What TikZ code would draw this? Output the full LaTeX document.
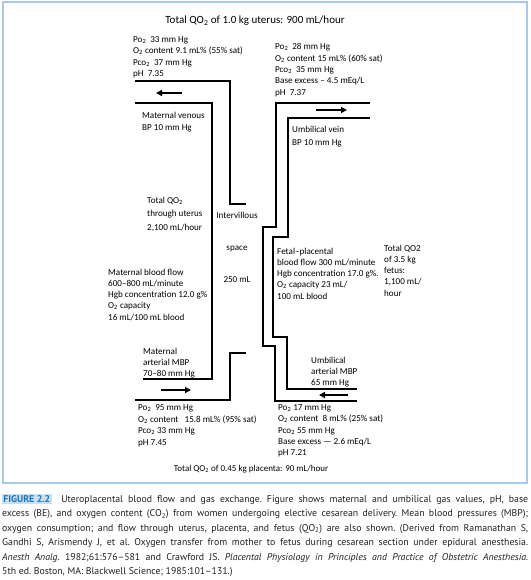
\documentclass[tikz,border=0pt]{standalone}
\usepackage{fontspec}
\setmainfont{Carlito}
\newfontfamily\capfont[Ligatures=TeX]{PT Sans}
\usetikzlibrary{arrows.meta}
\definecolor{frameblue}{HTML}{A9C9EA}
\definecolor{figblue}{HTML}{1D75B3}
\definecolor{figbg}{HTML}{C9E0F4}
\definecolor{captext}{HTML}{231F20}
\newcommand\osub{\textsubscript{2}}
\begin{document}
\begin{tikzpicture}[x=1pt,y=-1pt,
  wall/.style={line width=1.6pt, line join=miter},
  flow/.style={line width=1.6pt,-{Triangle[length=6pt,width=6pt]}},
  lbl/.style={font=\fontsize{9.1}{11.3}\selectfont, align=left, anchor=north west, inner sep=0pt},
  ttl/.style={font=\fontsize{9}{11}\selectfont, inner sep=0pt}]
\useasboundingbox (0,0) rectangle (530,580);
\draw[frameblue, line width=1.5pt] (3,2) rectangle (527,483);

% titles
\node[ttl, font=\fontsize{11}{13}\selectfont] (toptitle) at (255,21) {Total QO\osub{} of 1.0 kg uterus: 900 mL/hour};
\node[ttl] (bottitle) at (251,469) {Total QO\osub{} of 0.45 kg placenta: 90 mL/hour};

% maternal walls
\draw[wall] (135,81) -- (230,81) -- (230,204) -- (246,204);
\draw[wall] (135,103) -- (212,103) -- (212,379) -- (143,379);
\draw[wall] (135,400) -- (230,400) -- (230,353) -- (246,353);
% fetal walls
\draw[wall] (370,103) -- (276,103) -- (276,227) -- (263,227) -- (263,346) -- (275,346) -- (275,401) -- (357,401);
\draw[wall] (370,118) -- (288,118) -- (288,237) -- (273,237) -- (273,337) -- (287,337) -- (287,389) -- (357,389);

% flow arrows
\coordinate (a1s) at (182,93);  \coordinate (a1e) at (156,93);
\coordinate (a2s) at (316,110); \coordinate (a2e) at (347,110);
\coordinate (a3s) at (161,390); \coordinate (a3e) at (191,390);
\coordinate (a4s) at (348,395); \coordinate (a4e) at (319,395);
\draw[flow] (a1s) -- (a1e);
\draw[flow] (a2s) -- (a2e);
\draw[flow] (a3s) -- (a3e);
\draw[flow] (a4s) -- (a4e);

% text blocks
\node[lbl] (ltop) at (133,36.5) {Po\osub{}\ \ 33 mm Hg\\O\osub{} content 9.1 mL\% (55\% sat)\\Pco\osub{}\ \ 37 mm Hg\\pH\ \ 7.35};
\node[lbl] (rtop) at (275,43.5) {Po\osub{}\ \ 28 mm Hg\\O\osub{} content 15 mL\% (60\% sat)\\Pco\osub{}\ \ 35 mm Hg\\Base excess – 4.5 mEq/L\\pH\ \ 7.37};
\node[lbl, font=\fontsize{9.1}{12}\selectfont] (matven) at (142,111.5) {Maternal venous\\BP 10 mm Hg};
\node[lbl, font=\fontsize{9.1}{13}\selectfont] (umbvein) at (292,125.5) {Umbilical vein\\BP 10 mm Hg};
\node[lbl, font=\fontsize{9.1}{13.5}\selectfont] (qut) at (147,196.5) {Total QO\osub\\through uterus\\2,100 mL/hour};
\node[font=\fontsize{9.1}{32}\selectfont, align=center, anchor=north, inner sep=0pt] (ivs) at (237,211.5) {Intervillous\\space\\250 mL};
\node[lbl] (mbf) at (108,268.5) {Maternal blood flow\\600–800 mL/minute\\Hgb concentration 12.0 g\%\\O\osub{} capacity\\16 mL/100 mL blood};
\node[lbl] (fpf) at (277,247.5) {Fetal–placental\\blood flow 300 mL/minute\\Hgb concentration 17.0 g\%.\\O\osub{} capacity 23 mL/\\100 mL blood};
\node[lbl] (qfet) at (384,244.5) {Total QO2\\of 3.5 kg\\fetus:\\1,100 mL/\\hour};
\node[lbl] (matart) at (143,347.5) {Maternal\\arterial MBP\\70–80 mm Hg};
\node[lbl] (umbart) at (311,356.5) {Umbilical\\arterial MBP\\65 mm Hg};
\node[lbl, font=\fontsize{9.1}{11.6}\selectfont] (lbot) at (138,404.5) {Po\osub{}\ \ 95 mm Hg\\O\osub{} content\ \ \ 15.8 mL\% (95\% sat)\\Pco\osub{} 33 mm Hg\\pH 7.45};
\node[lbl] (rbot) at (278,404.5) {Po\osub{} 17 mm Hg\\O\osub{} content\ \ 8 mL\% (25\% sat)\\Pco\osub{} 55 mm Hg\\Base excess — 2.6 mEq/L\\pH 7.21};

% caption
\node[anchor=north west, inner sep=0pt, text width=526pt, align=justify,
      font=\capfont\fontsize{9.8}{14.5}\selectfont, text=captext] (caption) at (2,494)
{\frenchspacing{\setlength{\fboxsep}{1.2pt}\colorbox{figbg}{\textcolor{figblue}{\bfseries FIGURE 2.2}}}\quad Uteroplacental blood flow and gas exchange. Figure shows maternal and umbilical gas values, pH, base\linebreak
excess (BE), and oxygen content (CO\osub) from women undergoing elective cesarean delivery. Mean blood pressures (MBP);\linebreak
oxygen consumption; and flow through uterus, placenta, and fetus (QO\osub) are also shown. (Derived from Ramanathan S,\linebreak
Gandhi S, Arismendy J, et al. Oxygen transfer from mother to fetus during cesarean section under epidural anesthesia.\linebreak
\textit{Anesth Analg.} 1982;61:576–581 and Crawford JS. \textit{Placental Physiology in Principles and Practice of Obstetric Anesthesia.}\linebreak
5th ed. Boston, MA: Blackwell Science; 1985:101–131.)};
\end{tikzpicture}
\end{document}
